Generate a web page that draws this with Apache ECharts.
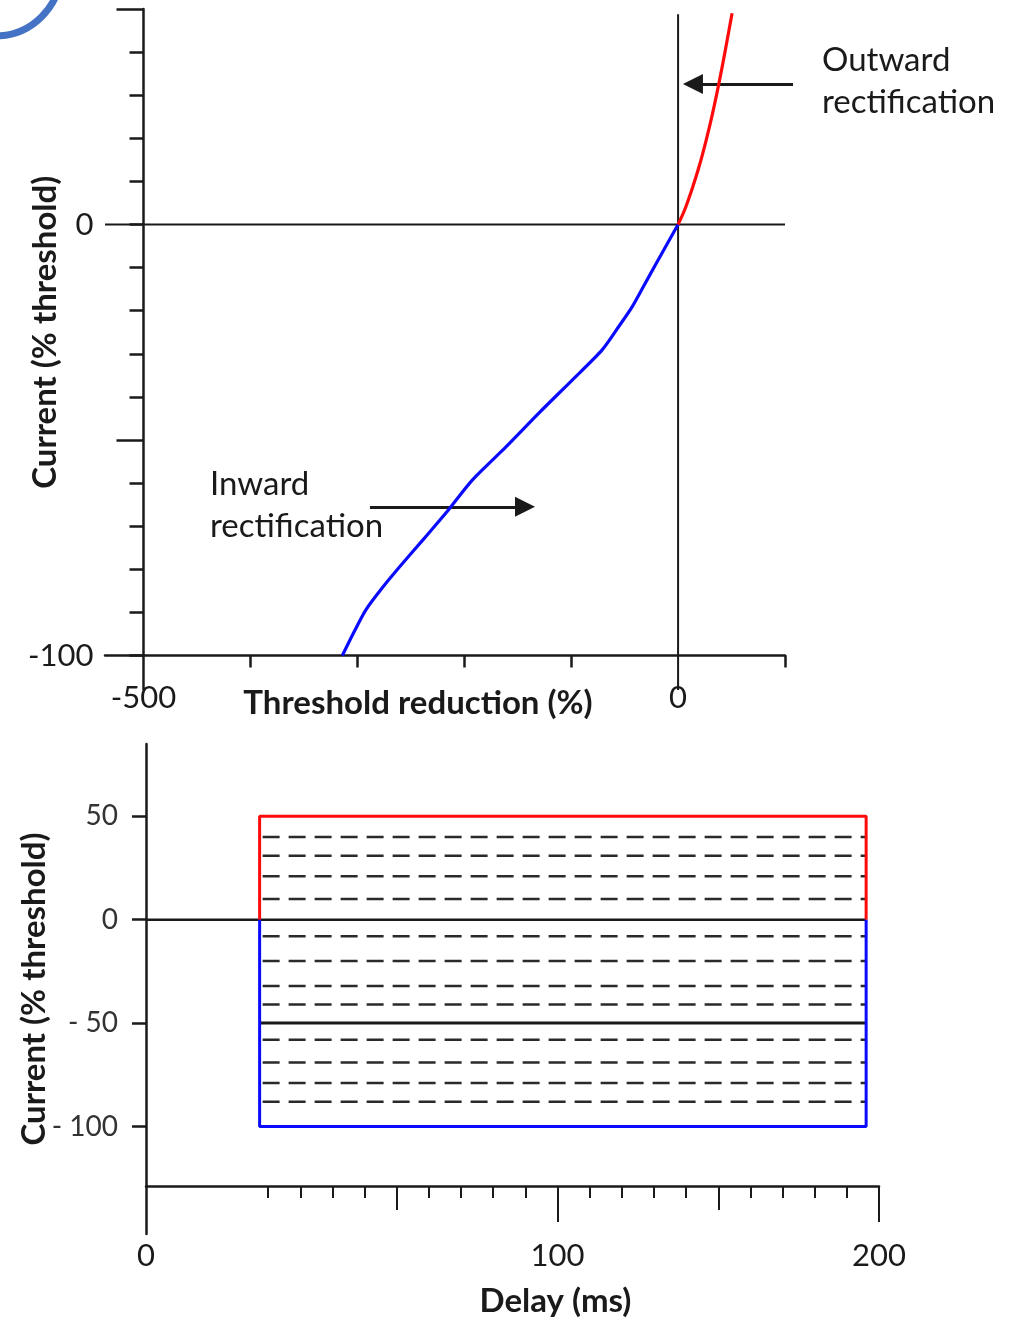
<!DOCTYPE html>
<html>
<head>
<meta charset="utf-8">
<script src="https://cdn.jsdelivr.net/npm/echarts@6/dist/echarts.min.js"></script>
<style>
  html, body { margin: 0; padding: 0; background: #ffffff; }
  #chart { width: 1020px; height: 1321px; }
</style>
</head>
<body>
<div id="chart"></div>
<script>
// ---- Upper panel: current vs threshold reduction ----
const outwardX = [0, 6, 13, 19.6, 26, 32, 38, 44, 50.5];
const outwardY = [0, 3.3, 8.2, 13.4, 19.3, 25.5, 32.5, 40.2, 49];
const inwardX = [-314, -303, -292, -277, -260, -237, -217, -192.5, -161, -130, -99, -71, -55, -43, -32, -21, -10, 0];
const inwardY = [-100, -94.5, -89.4, -84.4, -79.3, -72.7, -66.9, -59.3, -51.6, -43.7, -36.1, -29.1, -23.5, -19.1, -14.2, -9.3, -4.4, 0];
const ivXTickValues = [-400, -300, -200, -100, 100];
const ivXLabelValues = [-500, 0];
const ivYLabelValues = [0, -100];
const ivYLongTicks = [-50, 50];
// arrow shafts: [tail, head]
const outwardArrow = [[107.5, 32.6], [13.9, 32.6]];
const inwardArrow = [[-288.2, -65.5], [-143.2, -65.5]];

// ---- Lower panel: current steps vs delay ----
const pulseStart = 9.3;
const pulseEnd = 196;
const pulseTop = 50;
const pulseBottom = -100;
const midLevel = -50;
const dashedLevels = [40, 31, 21, 10, -8, -20, -32, -41, -58, -69, -79, -88];
const delayMinorTicks = [10, 20, 30, 40, 60, 70, 80, 90, 110, 120, 130, 140, 160, 170, 180, 190];
const delayMidTicks = [50, 150];
const delayMajorTicks = [100, 200];
const delayLabels = [0, 100, 200];
const currentTicks = [50, 0, -50, -100];

const FONT = 'Lato, "Open Sans", sans-serif';
const INK = '#1a1a1a';
const RED = '#ff0a0a';
const BLUE = '#0a0aff';

const zip = (xs, ys) => xs.map((x, i) => [x, ys[i]]);

const chart = echarts.init(document.getElementById('chart'), null, { renderer: 'canvas' });

function plain(data, color, width, xi, yi, extra) {
  return Object.assign({
    type: 'line', xAxisIndex: xi, yAxisIndex: yi, data: data,
    symbol: 'none', silent: true, animation: false,
    lineStyle: { color: color, width: width }
  }, extra || {});
}

// the first 10 ms of the delay axis are drawn stretched
const delayBreaks = [{ start: 0, end: 10, gap: 38 }];
function delayAxis(ticks, len, extra) {
  return Object.assign({
    gridIndex: 1, type: 'value', min: 0, max: 200, position: 'bottom', offset: -48,
    breaks: delayBreaks,
    breakArea: { show: false },
    splitLine: { show: false },
    axisLine: { show: false, onZero: false },
    axisTick: { customValues: ticks, length: len, lineStyle: { color: INK, width: 2 } },
    axisLabel: { show: false }
  }, extra || {});
}

// delay series are plotted on the broken axis (xAxis index 2)
const DX = 2, DY = 2;

const series = [
  // upper panel frame lines
  plain([[-536, 0], [100, 0]], INK, 2, 0, 0),
  plain([[0, -108], [0, 48.8]], INK, 2, 0, 0, { clip: false }),
  plain([[-500, -100], [-500, -108]], INK, 2.5, 0, 0, { clip: false }),
  // I/V relation
  plain(zip(inwardX, inwardY), BLUE, 3.2, 0, 0, { smooth: 0.25, z: 5, clip: false }),
  plain(zip(outwardX, outwardY), RED, 3.2, 0, 0, { smooth: 0.3, z: 5, clip: false }),
  {
    type: 'lines', coordinateSystem: 'cartesian2d', xAxisIndex: 0, yAxisIndex: 0,
    clip: false, silent: true, animation: false, z: 4,
    symbol: ['none', 'triangle'], symbolSize: [16, 20],
    lineStyle: { color: INK, width: 3, opacity: 1, curveness: 0 },
    data: [{ coords: outwardArrow }, { coords: inwardArrow }]
  }
];

// lower panel: baseline, step levels and envelope
series.push(plain([[0, 0], [pulseEnd, 0]], INK, 2.5, DX, DY));
series.push(plain([[pulseStart, midLevel], [pulseEnd, midLevel]], INK, 3, DX, DY));
dashedLevels.forEach(v => {
  series.push(plain([[pulseStart, v], [pulseEnd, v]], '#2a2a2a', 2.5, DX, DY, {
    lineStyle: { color: '#2a2a2a', width: 2.5, type: [17, 9], dashOffset: -3 }
  }));
});
series.push(plain([[pulseStart, 0], [pulseStart, pulseTop], [pulseEnd, pulseTop], [pulseEnd, 0]], RED, 3, DX, DY, { z: 6 }));
series.push(plain([[pulseStart, 0], [pulseStart, pulseBottom], [pulseEnd, pulseBottom], [pulseEnd, 0]], BLUE, 3, DX, DY, { z: 6 }));

const labelStyle = { color: INK, fontSize: 31, fontFamily: FONT };
const nameStyle = { color: INK, fontSize: 33, fontWeight: 'bold', fontFamily: FONT };

chart.setOption({
  animation: false,
  backgroundColor: '#ffffff',
  grid: [
    { left: 105, top: 9, width: 680, height: 646.5, outerBoundsMode: 'none', containLabel: false },
    { left: 146, top: 744, width: 733, height: 490, outerBoundsMode: 'none', containLabel: false }
  ],
  xAxis: [
    {
      gridIndex: 0, type: 'value', min: -536, max: 100, position: 'bottom',
      splitLine: { show: false },
      axisLine: { onZero: false, lineStyle: { color: INK, width: 2.5 } },
      axisTick: { customValues: ivXTickValues, length: 12, lineStyle: { color: INK, width: 2.5 } },
      axisLabel: Object.assign({ customValues: ivXLabelValues, margin: 27 }, labelStyle),
      name: 'Threshold reduction (%)', nameLocation: 'middle', nameGap: 31, nameMoveOverlap: false,
      nameTextStyle: Object.assign({ padding: [0, 54, 0, 0] }, nameStyle)
    },
    // plain baseline of the delay axis (unbroken)
    {
      gridIndex: 1, type: 'value', min: 0, max: 200, position: 'bottom', offset: -48,
      splitLine: { show: false },
      axisLine: { show: true, onZero: false, lineStyle: { color: INK, width: 2.5 } },
      axisTick: { show: false },
      axisLabel: { show: false }
    },
    delayAxis(delayMinorTicks, 12),
    delayAxis(delayMidTicks, 24),
    delayAxis(delayMajorTicks, 36, {
      axisLabel: Object.assign({ customValues: delayLabels, margin: 54 }, labelStyle),
      name: 'Delay (ms)', nameLocation: 'middle', nameGap: 99, nameMoveOverlap: false,
      nameTextStyle: Object.assign({ padding: [0, 0, 0, 86] }, nameStyle)
    })
  ],
  yAxis: [
    {
      gridIndex: 0, type: 'value', min: -100, max: 50, interval: 10, position: 'left', offset: -38.5,
      splitLine: { show: false },
      axisLine: { onZero: false, lineStyle: { color: INK, width: 2.5 } },
      axisTick: { length: 14, lineStyle: { color: INK, width: 2.5 } },
      axisLabel: Object.assign({ customValues: ivYLabelValues, margin: 50 }, labelStyle),
      name: 'Current (% threshold)', nameLocation: 'middle', nameRotate: 90, nameGap: 82,
      nameMoveOverlap: false,
      nameTextStyle: nameStyle
    },
    {
      gridIndex: 0, type: 'value', min: -100, max: 50, position: 'left', offset: -38.5,
      splitLine: { show: false },
      axisLine: { show: false, onZero: false },
      axisTick: { customValues: ivYLongTicks, length: 27, lineStyle: { color: INK, width: 2.5 } },
      axisLabel: { show: false }
    },
    {
      gridIndex: 1, type: 'value', min: -152, max: 85, position: 'left',
      splitLine: { show: false },
      axisLine: { onZero: false, lineStyle: { color: INK, width: 2.5 } },
      axisTick: { customValues: currentTicks, length: 14, lineStyle: { color: INK, width: 2.5 } },
      axisLabel: {
        customValues: currentTicks, margin: 28, color: '#333333', fontSize: 28, fontFamily: FONT,
        formatter: v => (v < 0 ? '- ' + Math.abs(v) : String(v))
      },
      name: 'Current (% threshold)', nameLocation: 'middle', nameRotate: 90, nameGap: 95,
      nameMoveOverlap: false,
      nameTextStyle: nameStyle
    }
  ],
  series: series,
  graphic: [
    {
      type: 'circle', silent: true,
      shape: { cx: -5, cy: -30, r: 66 },
      style: { fill: 'none', stroke: '#4472C4', lineWidth: 7 }
    },
    {
      type: 'text', left: 822, top: 39, silent: true,
      style: { text: 'Outward\nrectification', fill: INK, font: '33px ' + FONT, lineHeight: 42 }
    },
    {
      type: 'text', left: 210, top: 463, silent: true,
      style: { text: 'Inward\nrectification', fill: INK, font: '33px ' + FONT, lineHeight: 42 }
    }
  ]
});
</script>
</body>
</html>
